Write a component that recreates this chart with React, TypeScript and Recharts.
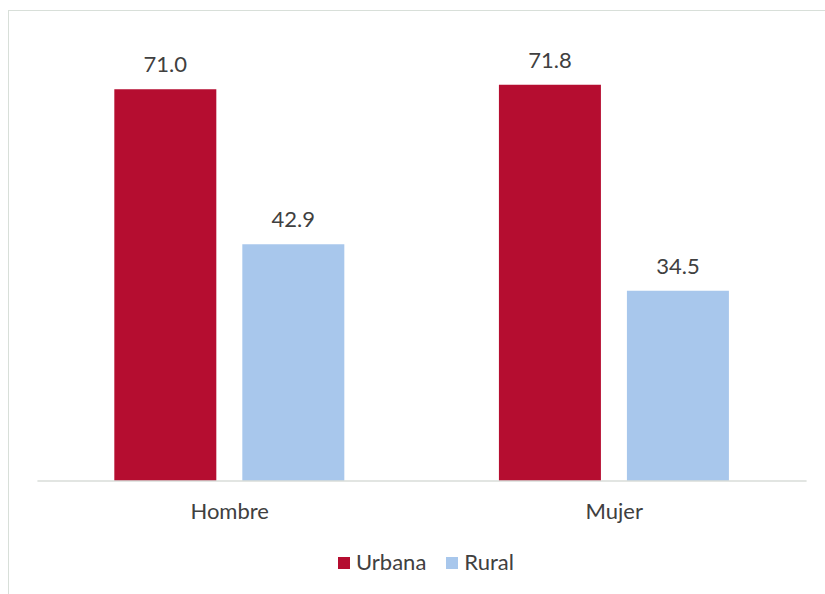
import { BarChart, Bar, XAxis, YAxis, Legend } from "recharts";

const categories = ["Hombre", "Mujer"];
const urbana = [71.0, 71.8];
const rural = [42.9, 34.5];

const seriesNames = ["Urbana", "Rural"];
const colors = ["#b50d30", "#a8c7ec"];

const data = categories.map((c, i) => ({ name: c, urbana: urbana[i], rural: rural[i] }));

const font = "Lato, 'Open Sans', sans-serif";
const textColor = "#404040";

function LegendContent() {
  return (
    <div style={{ display: "flex", alignItems: "flex-start", fontFamily: font, fontSize: 22, lineHeight: "22px", color: textColor }}>
      {seriesNames.map((n, i) => (
        <div key={n} style={{ display: "flex", alignItems: "flex-start", marginRight: 20 }}>
          <span style={{ width: 12, height: 12, background: colors[i], marginTop: 6, marginRight: 6, display: "inline-block" }} />
          <span>{n}</span>
        </div>
      ))}
    </div>
  );
}

export default function App() {
  return (
    <div
      style={{
        position: "fixed",
        left: 8,
        top: 10,
        width: 830,
        height: 600,
        borderLeft: "1px solid #d8dfd9",
        borderTop: "1px solid #d8dfd9",
        background: "#fff",
      }}
    >
      <BarChart
        width={817}
        height={583}
        data={data}
        margin={{ top: 28.6, right: 19.4, left: 28.4, bottom: 83 }}
        barCategoryGap="20%"
        barGap={26}
      >
        <XAxis
          dataKey="name"
          height={30}
          tickLine={false}
          tickSize={0}
          tickMargin={22}
          axisLine={{ stroke: "#d9ddd9", strokeWidth: 1.5 }}
          tick={{ fill: textColor, fontSize: 22, fontFamily: font }}
        />
        <YAxis hide domain={[0, 80]} />
        <Legend
          verticalAlign="middle"
          content={<LegendContent />}
          wrapperStyle={{ top: 540, left: 329, width: "auto", height: "auto" }}
        />
        <Bar
          dataKey="urbana"
          name="Urbana"
          fill={colors[0]}
          isAnimationActive={false}
          label={{ position: "top", offset: 17, fill: textColor, fontSize: 22, fontFamily: font, formatter: (v: number) => v.toFixed(1) }}
        />
        <Bar
          dataKey="rural"
          name="Rural"
          fill={colors[1]}
          isAnimationActive={false}
          label={{ position: "top", offset: 17, fill: textColor, fontSize: 22, fontFamily: font, formatter: (v: number) => v.toFixed(1) }}
        />
      </BarChart>
    </div>
  );
}
